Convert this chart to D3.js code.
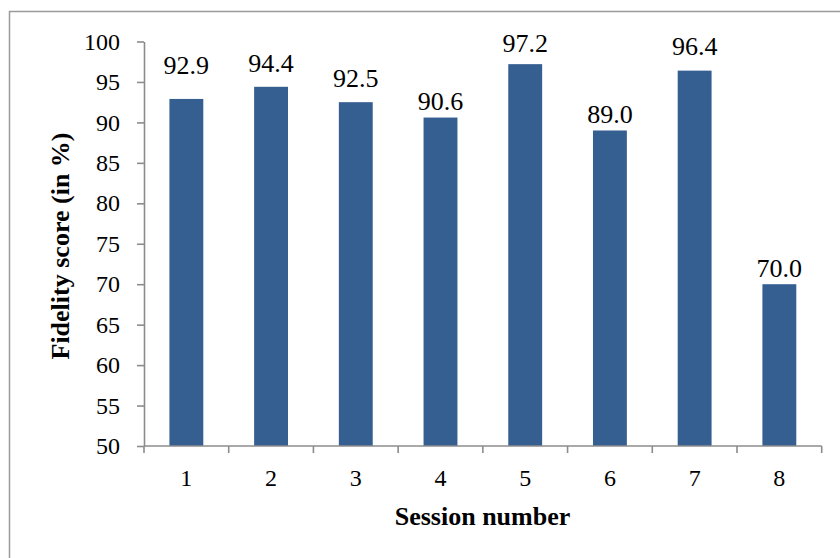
<!DOCTYPE html>
<html>
<head>
<meta charset="utf-8">
<script src="https://cdn.jsdelivr.net/npm/d3@7"></script>
<style>
  html, body { margin: 0; padding: 0; background: #fff; }
  svg { display: block; }
  text { font-family: "Liberation Serif", "Times New Roman", serif; fill: #000; }
</style>
</head>
<body>
<svg id="chart" width="840" height="558"></svg>
<script>
// Fidelity score per session
const sessions = ["1", "2", "3", "4", "5", "6", "7", "8"];
const scores = [92.9, 94.4, 92.5, 90.6, 97.2, 89.0, 96.4, 70.0];
const yTicks = [50, 55, 60, 65, 70, 75, 80, 85, 90, 95, 100];

const W = 840, H = 558;
const plot = { left: 144, right: 821.7, top: 41.5, bottom: 446 };
const axisColor = "#8c8c8c";
const barColor = "#365f91";

const svg = d3.select("#chart");

// outer chart frame
svg.append("rect")
  .attr("x", 9.5).attr("y", 11.5)
  .attr("width", W + 20).attr("height", H + 20)
  .attr("fill", "#fff")
  .attr("stroke", "#9a9a9a").attr("stroke-width", 1.5);

const x = d3.scaleBand()
  .domain(sessions)
  .range([plot.left, plot.right])
  .paddingInner(0.6)
  .paddingOuter(0.3);

const y = d3.scaleLinear()
  .domain([50, 100])
  .range([plot.bottom, plot.top]);

// bars
svg.append("g").selectAll("rect")
  .data(sessions)
  .join("rect")
  .attr("x", d => x(d))
  .attr("width", x.bandwidth())
  .attr("y", (d, i) => y(scores[i]))
  .attr("height", (d, i) => y(50) - y(scores[i]))
  .attr("fill", barColor);

// value labels; a few were lifted by hand to sit clear of their neighbours
const labelGap = [25, 14.5, 15.4, 8, 12.4, 7.2, 15.6, 7.2];
svg.append("g").selectAll("text")
  .data(sessions)
  .join("text")
  .attr("x", d => x(d) + x.bandwidth() / 2)
  .attr("y", (d, i) => y(scores[i]) - labelGap[i])
  .attr("text-anchor", "middle")
  .attr("font-size", 26)
  .text((d, i) => scores[i].toFixed(1));

// y axis
const yAxis = svg.append("g")
  .attr("transform", `translate(${plot.left},0)`)
  .call(d3.axisLeft(y).tickValues(yTicks).tickSize(7).tickPadding(17).tickSizeOuter(0));
yAxis.select(".domain").attr("stroke", axisColor).attr("stroke-width", 1.6);
yAxis.selectAll(".tick line").attr("stroke", axisColor).attr("stroke-width", 1.6);
yAxis.selectAll(".tick text")
  .attr("font-family", "Liberation Serif, serif")
  .attr("font-size", 24)
  .attr("fill", "#000");

// x axis: tick marks sit between categories
const xAxisG = svg.append("g").attr("transform", `translate(0,${plot.bottom})`);
xAxisG.append("line")
  .attr("x1", plot.left).attr("x2", plot.right)
  .attr("stroke", axisColor).attr("stroke-width", 1.6);
const bounds = d3.range(sessions.length + 1).map(i => plot.left + i * x.step());
xAxisG.selectAll("line.tick")
  .data(bounds)
  .join("line")
  .attr("class", "tick")
  .attr("x1", d => d).attr("x2", d => d)
  .attr("y1", 0).attr("y2", 7)
  .attr("stroke", axisColor).attr("stroke-width", 1.6);
xAxisG.selectAll("text")
  .data(sessions)
  .join("text")
  .attr("x", d => x(d) + x.bandwidth() / 2)
  .attr("y", 40)
  .attr("text-anchor", "middle")
  .attr("font-size", 24)
  .text(d => d);

// axis titles
svg.append("text")
  .attr("x", 482.5).attr("y", 525)
  .attr("text-anchor", "middle")
  .attr("font-size", 26)
  .attr("font-weight", "bold")
  .text("Session number");

svg.append("text")
  .attr("transform", "translate(69,246) rotate(-90)")
  .attr("text-anchor", "middle")
  .attr("font-size", 26)
  .attr("font-weight", "bold")
  .text("Fidelity score (in %)");
</script>
</body>
</html>
